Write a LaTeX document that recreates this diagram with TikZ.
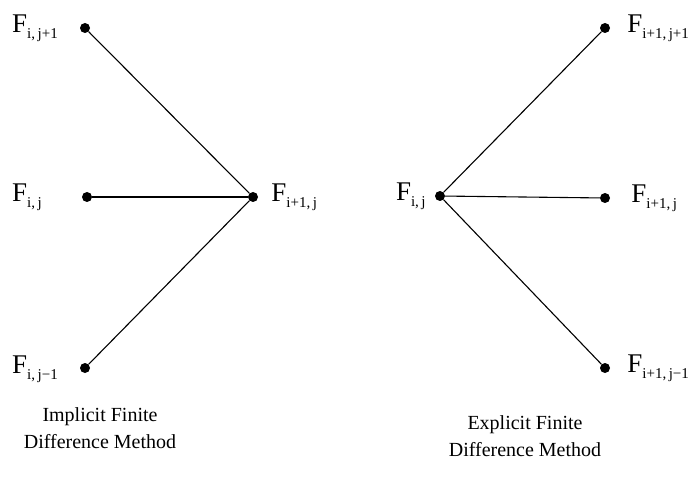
\documentclass[tikz,border=0pt]{standalone}
\usepackage{fontspec}
\setmainfont{Liberation Serif}
\usetikzlibrary{positioning}
\newcommand{\gridF}[2]{{\fontsize{27}{27}\selectfont F}\raisebox{-6pt}{\fontsize{15}{15}\selectfont #1,\,#2}}

\begin{document}
\begin{tikzpicture}[x=1pt, y=-1pt,
            node distance=13pt,
            dot/.style={circle, fill=black, inner sep=0pt, minimum size=10pt},
            lbl/.style={inner sep=0pt},
            caption/.style={font=\fontsize{20}{27}\selectfont, align=center, inner sep=0pt},
            edge/.style={line width=1.1pt}
          ]
          \useasboundingbox (0,0) rectangle (693,489);
          % implicit scheme
          \node[dot] (itop) at (85,28)  {};
          \node[dot] (imid) at (87,197) {};
          \node[dot] (ibot) at (85,368) {};
          \node[dot] (inew) at (253,197) {};
          \node[lbl, anchor=west] (itopl) at (12,28)  {\gridF{i}{j+1}};
          \node[lbl, anchor=west] (imidl) at (12,197) {\gridF{i}{j}};
          \node[lbl, anchor=west] (ibotl) at (12,369) {\gridF{i}{j−1}};
          \node[lbl] (inewl) [right=of inew] {\gridF{i+1}{j}};
          \draw[edge] (itop)--(inew);
          \draw[edge] (imid)--(inew);
          \draw[edge] (ibot)--(inew);
          \node[caption] (icap) at (100,428) {Implicit Finite\\Difference Method};
          % explicit scheme
          \node[dot] (eold) at (440,196) {};
          \node[dot] (etop) at (605,28)  {};
          \node[dot] (emid) at (605,198) {};
          \node[dot] (ebot) at (605,368) {};
          \node[lbl] (eoldl) [left=9pt of eold] {\gridF{i}{j}};
          \node[lbl] (etopl) [right=17pt of etop] {\gridF{i+1}{j+1}};
          \node[lbl] (emidl) [right=21pt of emid] {\gridF{i+1}{j}};
          \node[lbl] (ebotl) [right=17pt of ebot] {\gridF{i+1}{j−1}};
          \draw[edge] (eold)--(etop);
          \draw[edge] (eold)--(emid);
          \draw[edge] (eold)--(ebot);
          \node[caption] (ecap) at (525,436) {Explicit Finite\\Difference Method};
        \end{tikzpicture}
\end{document}
